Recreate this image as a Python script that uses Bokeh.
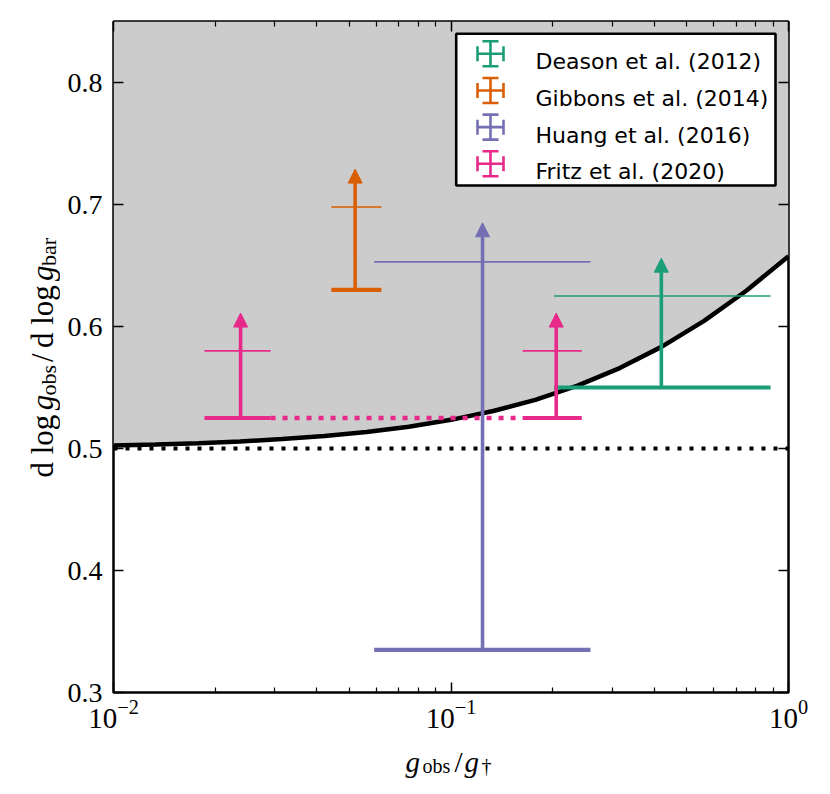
from math import pi
from bokeh.plotting import figure
from bokeh.layouts import row, column
from bokeh.models import (ColumnDataSource, Range1d, LinearScale, LogAxis, LinearAxis,
                          FixedTicker, Arrow, NormalHead, Label)
from bokeh.embed import file_html
from bokeh.resources import INLINE

# ---------------- data ----------------
study_names = ["Deason et al. (2012)", "Gibbons et al. (2014)",
               "Huang et al. (2016)", "Fritz et al. (2020)"]
study_colors = ["#1b9e77", "#d95f02", "#7570b3", "#e7298a"]

# one entry per measurement (Fritz has two)
point_study = [0, 1, 2, 3, 3]
x_center = [0.420, 0.0520, 0.124, 0.0238, 0.205]
x_low = [0.202, 0.0442, 0.0592, 0.0186, 0.163]
x_high = [0.885, 0.0622, 0.259, 0.0292, 0.244]
y_value = [0.625, 0.698, 0.653, 0.580, 0.580]     # thin horizontal bar
y_limit = [0.550, 0.630, 0.335, 0.525, 0.525]     # thick lower-limit bar
y_arrow = [0.656, 0.729, 0.685, 0.611, 0.611]     # arrow tip

# RAR slope curve  d log g_obs / d log g_bar  vs  g_obs/g_dagger
curve_x = [0.01, 0.0133, 0.0178, 0.0237, 0.0316, 0.0422, 0.0562, 0.075, 0.1,
           0.1334, 0.1778, 0.2371, 0.3162, 0.4217, 0.5623, 0.7499, 1.0]
curve_y = [0.5025, 0.5033, 0.5044, 0.5058, 0.5077, 0.5103, 0.5135, 0.5179, 0.5235,
           0.5307, 0.5399, 0.5515, 0.5659, 0.5835, 0.6046, 0.6293, 0.6576]

# deep-MOND limit
deep_x = [0.01, 1.0]
deep_y = [0.5, 0.5]

x_ticks = [0.01, 0.1, 1.0]
x_minor_ticks = [0.02, 0.03, 0.04, 0.05, 0.06, 0.07, 0.08, 0.09,
                 0.2, 0.3, 0.4, 0.5, 0.6, 0.7, 0.8, 0.9]
y_ticks = [0.3, 0.4, 0.5, 0.6, 0.7, 0.8]
x_lim = (0.01, 1.0)
y_lim = (0.3, 0.85)

# ---------------- layout (page pixels) ----------------
LEFT_W = 60                       # strip holding the y-axis title
FL, FT, FW, FH = 113, 21, 675, 671
BORDER_R, BORDER_B = 34, 50
MAIN_H = FT + FH + BORDER_B
TOTAL_H = 786
BOTTOM_H = TOTAL_H - MAIN_H


def fx(px):
    return (px - FL) / FW


def fy(py):
    return (FT + FH - py) / FH


SERIF = "Liberation Serif"
SANS = "DejaVu Sans"

p = figure(x_axis_type="log", x_range=Range1d(*x_lim), y_range=Range1d(*y_lim),
           frame_width=FW, frame_height=FH,
           min_border_left=FL - LEFT_W, min_border_right=BORDER_R,
           min_border_top=FT, min_border_bottom=BORDER_B,
           output_backend="svg", toolbar_location=None)
p.extra_x_ranges = {"leg": Range1d(0, 1)}
p.extra_y_ranges = {"leg": Range1d(0, 1)}
p.extra_x_scales = {"leg": LinearScale()}
p.extra_y_scales = {"leg": LinearScale()}

p.grid.visible = False
p.background_fill_color = "white"
p.border_fill_color = "white"
p.outline_line_color = "black"
p.outline_line_width = 2.5
p.outline_line_alpha = 1.0


def style_axis(ax, show_labels, standoff=11):
    ax.axis_line_color = None
    ax.major_tick_in = 10
    ax.major_tick_out = 0
    ax.minor_tick_in = 5
    ax.minor_tick_out = 0
    ax.major_tick_line_width = 1.5
    ax.minor_tick_line_width = 1.2
    ax.major_tick_line_color = "black"
    ax.minor_tick_line_color = "black"
    if show_labels:
        ax.major_label_text_font = SERIF
        ax.major_label_text_font_size = "28px"
        ax.major_label_text_color = "black"
        ax.major_label_standoff = standoff
    else:
        ax.major_label_text_font_size = "8px"
        ax.major_label_text_color = None
        ax.major_label_standoff = 0


p.xaxis.ticker = FixedTicker(ticks=x_ticks, minor_ticks=x_minor_ticks)
p.yaxis.ticker = FixedTicker(ticks=y_ticks, minor_ticks=[])
style_axis(p.xaxis[0], True, standoff=7)
p.xaxis.major_label_text_font_size = "29px"
style_axis(p.yaxis[0], True, standoff=11)

top_ax = LogAxis(ticker=FixedTicker(ticks=x_ticks, minor_ticks=x_minor_ticks))
style_axis(top_ax, False)
p.add_layout(top_ax, "above")
right_ax = LinearAxis(ticker=FixedTicker(ticks=y_ticks, minor_ticks=[]))
style_axis(right_ax, False)
p.add_layout(right_ax, "right")

# ---------------- background: shaded region + curves ----------------
p.varea(x=curve_x, y1=curve_y, y2=y_lim[1], fill_color="#cccccc", fill_alpha=1.0)
p.line(deep_x, deep_y, line_color="black", line_width=4, line_dash="4 8")
p.line(curve_x, curve_y, line_color="black", line_width=4.5)

# ---------------- measurements ----------------
src = ColumnDataSource(dict(
    xc=x_center, xl=x_low, xh=x_high, yv=y_value, yl=y_limit, ya=y_arrow,
    color=[study_colors[s] for s in point_study]))

# dotted link between the two Fritz et al. measurements
fritz = [i for i, s in enumerate(point_study) if s == 3]
p.segment(x0=[x_high[fritz[0]]], y0=[y_limit[fritz[0]]],
          x1=[x_low[fritz[1]]], y1=[y_limit[fritz[1]]],
          line_color=study_colors[3], line_width=4.5, line_dash="5 7")

p.segment(x0="xl", y0="yv", x1="xh", y1="yv", source=src,
          line_color="color", line_width=1.6)
p.segment(x0="xl", y0="yl", x1="xh", y1="yl", source=src,
          line_color="color", line_width=4.2)

for i in range(len(x_center)):
    c = study_colors[point_study[i]]
    asrc = ColumnDataSource(dict(x=[x_center[i]], y0=[y_limit[i]], y1=[y_arrow[i]]))
    p.add_layout(Arrow(x_start="x", y_start="y0", x_end="x", y_end="y1", source=asrc,
                       line_color=c, line_width=3.6,
                       end=NormalHead(size=14, fill_color=c, line_color=c, line_width=1)))

# ---------------- legend (drawn in frame-fraction coordinates) ----------------
LEG_L, LEG_R, LEG_T, LEG_B = 455.7, 775.0, 33.3, 185.0
ROW0, ROW_DY = 53.3, 36.67
ICON_X, ICON_HW, ICON_HH, CAP_W, CAP_H = 490.0, 13.0, 12.5, 8.0, 7.5
TEXT_X = 535.0

p.quad(left=fx(LEG_L), right=fx(LEG_R), top=fy(LEG_T), bottom=fy(LEG_B),
       x_range_name="leg", y_range_name="leg",
       fill_color="white", line_color="black", line_width=2.6)

sx0, sy0, sx1, sy1, scol = [], [], [], [], []
for i, col in enumerate(study_colors):
    cy = ROW0 + i * ROW_DY
    segs = [
        (ICON_X - ICON_HW, cy, ICON_X + ICON_HW, cy),
        (ICON_X, cy - ICON_HH, ICON_X, cy + ICON_HH),
        (ICON_X - CAP_W, cy - ICON_HH, ICON_X + CAP_W, cy - ICON_HH),
        (ICON_X - CAP_W, cy + ICON_HH, ICON_X + CAP_W, cy + ICON_HH),
        (ICON_X - ICON_HW, cy - CAP_H, ICON_X - ICON_HW, cy + CAP_H),
        (ICON_X + ICON_HW, cy - CAP_H, ICON_X + ICON_HW, cy + CAP_H),
    ]
    for a, b, c2, d in segs:
        sx0.append(fx(a)); sy0.append(fy(b)); sx1.append(fx(c2)); sy1.append(fy(d))
        scol.append(col)
    p.add_layout(Label(x=fx(TEXT_X), y=fy(cy + 8.0), x_range_name="leg", y_range_name="leg",
                       text=study_names[i], text_font=SANS, text_font_size="22px",
                       text_color="black", text_align="left", text_baseline="alphabetic"))
p.segment(x0=sx0, y0=sy0, x1=sx1, y1=sy1, line_color=scol, line_width=2.6,
          x_range_name="leg", y_range_name="leg")


# ---------------- axis titles in their own strips ----------------
def strip(width, height):
    f = figure(width=width, height=height, x_range=Range1d(0, 1), y_range=Range1d(0, 1),
               min_border=0, x_axis_location=None, y_axis_location=None,
               output_backend="svg", toolbar_location=None)
    f.grid.visible = False
    f.outline_line_color = None
    f.background_fill_color = "white"
    f.border_fill_color = "white"
    return f


def piece(fig, text, cx, cy, size, italic=False, angle=0.0):
    fig.add_layout(Label(x=cx, y=cy, x_units="canvas", y_units="canvas",
                         text=text, text_font=SERIF, text_font_size=f"{size}px",
                         text_font_style="italic" if italic else "normal",
                         text_color="black", angle=angle,
                         text_align="left", text_baseline="alphabetic"))


# y-axis title  d log g_obs / d log g_bar  (rotated, reading upward)
left_fig = strip(LEFT_W, TOTAL_H)
YB, YS = 42, 48
piece(left_fig, "d log", YB, 477, 31, angle=pi / 2)
piece(left_fig, "g", YB, 409.8, 31, italic=True, angle=pi / 2)
piece(left_fig, "obs", YS, 395.0, 22, angle=pi / 2)
piece(left_fig, "/", YB, 361.5, 31, angle=pi / 2)
piece(left_fig, "d log", YB, 347.6, 31, angle=pi / 2)
piece(left_fig, "g", YB, 280.4, 31, italic=True, angle=pi / 2)
piece(left_fig, "bar", YS, 265.6, 22, angle=pi / 2)

# x-axis title  g_obs / g_dagger
bottom_fig = strip(FL - LEFT_W + FW + BORDER_R, BOTTOM_H)
OX, OY = LEFT_W, MAIN_H
piece(bottom_fig, "g", 405 - OX, 761 - OY, 29, italic=True)
piece(bottom_fig, "obs", 422 - OX, 765 - OY, 20)
piece(bottom_fig, "/", 454 - OX, 761 - OY, 29)
piece(bottom_fig, "g", 464 - OX, 761 - OY, 29, italic=True)
piece(bottom_fig, "\u2020", 481 - OX, 765 - OY, 20)

layout = row(left_fig, column(p, bottom_fig, spacing=0), spacing=0)
open("out.html", "w").write(file_html(layout, INLINE))
